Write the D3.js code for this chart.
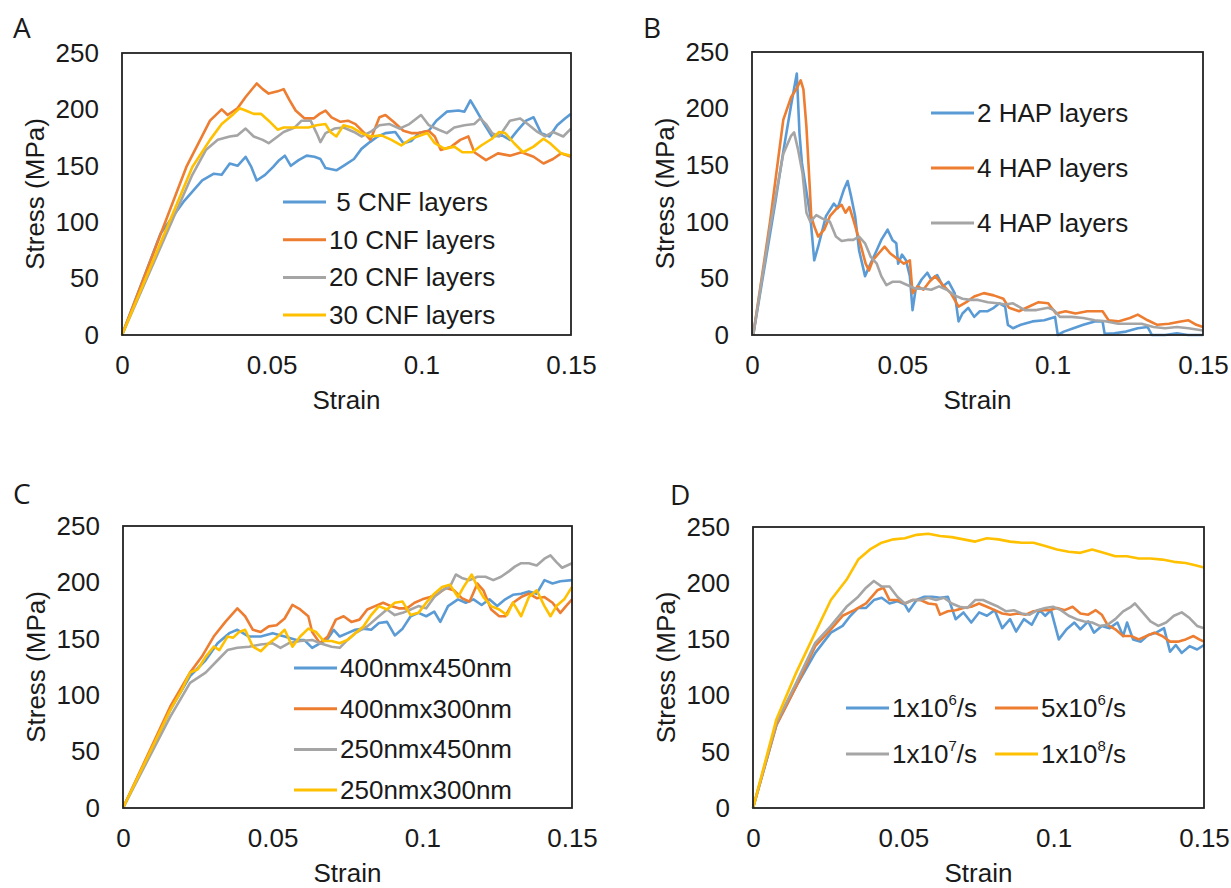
<!DOCTYPE html>
<html>
<head>
<meta charset="utf-8">
<script src="https://cdn.jsdelivr.net/npm/d3@7"></script>
<style>
  body { margin: 0; background: #fff; }
  svg text { font-family: "Liberation Sans", Arial, sans-serif; fill: #1a1a1a; }
  .panel-letter { font-family: "Open Sans", "Noto Sans", sans-serif; }
</style>
</head>
<body>
<div id="chart"></div>
<script>
// tick values shared by every panel
const strainTicks = [0, 0.05, 0.1, 0.15];
const stressTicks = [0, 50, 100, 150, 200, 250];
const colors = ["#5B9BD5", "#ED7D31", "#A5A5A5", "#FFC000"];

// ---- A: number of CNF layers ----
const namesA = [" 5 CNF layers", "10 CNF layers", "20 CNF layers", "30 CNF layers"];
const a5 = [[0,0],[0.0129,90],[0.0208,119],[0.0268,137],[0.0307,143],[0.0333,142],[0.036,152],[0.0386,150],[0.0413,158],[0.0432,149],[0.045,137],[0.0478,142],[0.0505,149],[0.0525,155],[0.0544,159],[0.0564,150],[0.059,155],[0.0617,159],[0.0643,158],[0.0663,156],[0.068,148],[0.0716,146],[0.074,150],[0.0775,156],[0.080,165],[0.0828,171],[0.0854,176],[0.088,179],[0.0913,180],[0.094,170],[0.0966,172],[0.0992,179],[0.1025,181],[0.105,190],[0.1085,198],[0.1124,199],[0.1144,198],[0.1164,208],[0.1184,199],[0.121,187],[0.1236,176],[0.127,177],[0.1296,173],[0.132,181],[0.135,190],[0.1375,193],[0.140,179],[0.1428,176],[0.1454,186],[0.148,192],[0.15,196]];
const a10 = [[0,0],[0.0215,149],[0.0294,190],[0.0333,200],[0.0353,195],[0.0386,201],[0.0413,211],[0.045,223],[0.047,218],[0.049,214],[0.052,216],[0.054,218],[0.056,208],[0.058,199],[0.061,192],[0.064,192],[0.066,196],[0.068,199],[0.070,193],[0.073,189],[0.0755,190],[0.078,187],[0.081,179],[0.083,173],[0.086,193],[0.088,195],[0.0907,189],[0.094,181],[0.0966,179],[0.099,179],[0.1025,181],[0.1045,176],[0.1065,164],[0.11,167],[0.113,173],[0.1157,176],[0.1177,162],[0.1216,155],[0.1256,161],[0.1296,159],[0.1335,162],[0.1375,158],[0.1408,152],[0.144,156],[0.1467,161],[0.15,158]];
const a20 = [[0,0],[0.0235,142],[0.028,164],[0.032,173],[0.036,176],[0.0386,177],[0.0413,183],[0.044,176],[0.047,173],[0.049,170],[0.052,176],[0.054,180],[0.0577,184],[0.060,190],[0.063,190],[0.065,179],[0.0663,171],[0.068,179],[0.071,183],[0.074,184],[0.0775,180],[0.080,176],[0.083,180],[0.086,186],[0.0894,187],[0.0927,183],[0.096,187],[0.0999,195],[0.1025,186],[0.1058,182],[0.1085,179],[0.111,184],[0.1144,186],[0.1177,187],[0.1197,192],[0.1216,187],[0.1236,179],[0.126,176],[0.1296,190],[0.133,192],[0.1355,187],[0.1388,180],[0.1414,176],[0.144,180],[0.1474,176],[0.15,183]];
const a30 = [[0,0],[0.0235,149],[0.0294,173],[0.0333,187],[0.0373,196],[0.0393,201],[0.0413,199],[0.044,196],[0.0465,196],[0.049,190],[0.052,182],[0.054,184],[0.058,184],[0.0623,184],[0.065,186],[0.068,187],[0.0696,180],[0.0716,176],[0.074,186],[0.0768,184],[0.080,179],[0.083,176],[0.0867,177],[0.09,173],[0.0933,168],[0.0966,174],[0.0999,177],[0.102,179],[0.1045,170],[0.1078,165],[0.111,167],[0.1137,162],[0.117,162],[0.12,168],[0.1236,174],[0.126,180],[0.128,179],[0.131,170],[0.134,162],[0.1375,167],[0.1408,174],[0.143,170],[0.1467,161],[0.15,159]];

// ---- B: number of HAP layers ----
const namesB = ["2 HAP layers", "4 HAP layers", "4 HAP layers"];
const b2 = [[0.0004,0],[0.0078,118],[0.0104,162],[0.013,203],[0.0149,231],[0.0158,178],[0.0166,152],[0.0194,105],[0.0207,66],[0.022,78],[0.0246,105],[0.0272,116],[0.0285,112],[0.0305,128],[0.0318,136],[0.033,122],[0.0343,105],[0.0356,75],[0.0376,52],[0.0389,60],[0.041,72],[0.043,84],[0.0451,93],[0.0467,84],[0.048,81],[0.0486,63],[0.0499,71],[0.0512,66],[0.0525,52],[0.0534,22],[0.0544,40],[0.0564,49],[0.0583,55],[0.0596,49],[0.0616,53],[0.0635,43],[0.0654,47],[0.0674,37],[0.0687,12],[0.07,19],[0.0719,24],[0.0739,16],[0.0758,21],[0.0784,21],[0.0804,24],[0.0823,28],[0.0842,25],[0.0851,9],[0.0868,6],[0.0894,9],[0.0933,12],[0.0972,13],[0.1008,16],[0.1017,0],[0.1037,3],[0.1069,6],[0.1102,9],[0.114,12],[0.1166,12],[0.1173,1],[0.1205,1.5],[0.1244,3],[0.1283,6],[0.1316,7],[0.133,0],[0.1374,0],[0.1413,1.5],[0.145,0],[0.15,0]];
const b4 = [[0.0004,0],[0.006,100],[0.0104,190],[0.013,210],[0.0149,218],[0.0162,225],[0.0171,217],[0.0181,184],[0.0192,131],[0.0197,105],[0.0207,96],[0.022,87],[0.024,93],[0.0259,105],[0.0279,111],[0.0298,115],[0.0311,108],[0.0324,113],[0.0337,102],[0.035,90],[0.0363,78],[0.0378,63],[0.0389,57],[0.0402,66],[0.0421,72],[0.0441,78],[0.046,72],[0.048,68],[0.0505,63],[0.0525,66],[0.0534,37],[0.0551,43],[0.057,40],[0.059,47],[0.0609,52],[0.0635,44],[0.0661,37],[0.0687,25],[0.0713,29],[0.0739,34],[0.0771,37],[0.0804,35],[0.0836,32],[0.0855,24],[0.0888,21],[0.092,25],[0.0953,29],[0.0985,28],[0.1011,19],[0.1043,21],[0.1076,19],[0.1115,21],[0.1166,21],[0.1186,13],[0.1218,12],[0.1257,15],[0.1283,18],[0.1316,13],[0.1348,9],[0.1387,10],[0.1426,12],[0.1452,13],[0.1478,9],[0.15,7]];
const b4b = [[0.0004,0],[0.006,95],[0.0104,160],[0.013,176],[0.014,179],[0.0153,164],[0.0168,143],[0.0181,108],[0.0194,100],[0.0214,106],[0.0233,103],[0.0259,100],[0.0279,87],[0.0298,83],[0.0318,84],[0.0337,84],[0.0356,87],[0.0376,81],[0.0395,69],[0.0415,63],[0.043,52],[0.0447,44],[0.0467,47],[0.0492,47],[0.0518,44],[0.0544,41],[0.057,41],[0.0596,40],[0.0622,43],[0.0648,40],[0.0674,35],[0.07,32],[0.0726,31],[0.0752,31],[0.0784,29],[0.0816,28],[0.0842,27],[0.0868,28],[0.0907,22],[0.0946,22],[0.0985,24],[0.1004,22],[0.1024,16],[0.1063,16],[0.1102,15],[0.114,13],[0.1179,12],[0.1218,10],[0.1257,10],[0.1296,10],[0.1335,7],[0.1374,6],[0.1413,7],[0.1452,6],[0.15,4]];

// ---- C: cross-section size ----
const namesC = ["400nmx450nm", "400nmx300nm", "250nmx450nm", "250nmx300nm"];
const c400x450 = [[0,0],[0.0158,87],[0.0224,117],[0.0276,131],[0.0316,146],[0.0355,155],[0.0382,158],[0.0421,152],[0.046,152],[0.05,155],[0.054,152],[0.0579,149],[0.0605,149],[0.0632,142],[0.0658,146],[0.0684,150],[0.0704,158],[0.0724,152],[0.075,155],[0.0776,158],[0.0803,159],[0.0829,158],[0.0855,164],[0.0882,165],[0.0908,153],[0.0934,159],[0.0961,170],[0.0987,173],[0.1013,170],[0.104,174],[0.106,165],[0.1086,179],[0.1119,185],[0.1145,182],[0.1171,185],[0.1198,180],[0.1224,185],[0.125,179],[0.1277,185],[0.1303,189],[0.133,190],[0.1356,192],[0.1382,190],[0.1408,202],[0.1435,199],[0.1461,201],[0.15,202]];
const c400x300 = [[0,0],[0.0158,90],[0.0224,120],[0.0263,134],[0.0303,152],[0.0342,165],[0.0382,177],[0.0408,170],[0.0434,158],[0.046,156],[0.0487,161],[0.0513,162],[0.054,168],[0.0566,180],[0.0592,176],[0.0619,170],[0.0632,156],[0.0658,146],[0.0684,152],[0.0711,167],[0.0737,170],[0.0763,165],[0.079,167],[0.0816,176],[0.0842,179],[0.0869,182],[0.0895,179],[0.0921,177],[0.0948,177],[0.0974,182],[0.1,185],[0.1026,187],[0.1053,190],[0.1079,195],[0.1105,193],[0.1132,186],[0.1158,183],[0.1184,199],[0.1204,193],[0.123,176],[0.1257,170],[0.1277,170],[0.1303,182],[0.133,187],[0.1356,190],[0.1382,186],[0.1408,187],[0.1435,182],[0.1461,173],[0.148,179],[0.15,185]];
const c250x450 = [[0,0],[0.0158,81],[0.0224,111],[0.0276,120],[0.0316,131],[0.0349,140],[0.0382,142],[0.0421,143],[0.046,145],[0.05,146],[0.0526,142],[0.0553,146],[0.0592,148],[0.0632,149],[0.0658,146],[0.0697,143],[0.0724,142],[0.075,149],[0.0776,155],[0.0816,161],[0.0855,170],[0.0882,176],[0.0908,171],[0.0934,173],[0.0961,176],[0.0987,179],[0.1013,177],[0.104,187],[0.1066,193],[0.1092,196],[0.1112,207],[0.1132,204],[0.1158,202],[0.1184,205],[0.1211,205],[0.1237,202],[0.1263,205],[0.129,210],[0.1309,214],[0.133,217],[0.1356,217],[0.1382,215],[0.1408,221],[0.1428,224],[0.1448,218],[0.1467,213],[0.15,217]];
const c250x300 = [[0,0],[0.0158,87],[0.0197,105],[0.0224,120],[0.025,123],[0.0276,134],[0.0303,143],[0.0322,140],[0.0349,152],[0.0368,151],[0.0388,156],[0.0408,158],[0.0434,143],[0.046,139],[0.0487,146],[0.0513,151],[0.054,158],[0.0566,143],[0.0592,152],[0.0619,159],[0.0645,156],[0.0671,148],[0.0697,148],[0.0724,146],[0.075,149],[0.0776,155],[0.0803,161],[0.0829,171],[0.0855,179],[0.0882,176],[0.0908,182],[0.0934,183],[0.0961,171],[0.0987,173],[0.1013,182],[0.104,190],[0.1066,196],[0.1092,198],[0.1119,187],[0.1138,196],[0.1165,207],[0.1184,196],[0.1204,187],[0.123,179],[0.1257,176],[0.1283,171],[0.1303,182],[0.133,170],[0.1356,187],[0.1382,193],[0.1408,179],[0.1428,170],[0.1448,179],[0.1474,185],[0.15,196]];

// ---- D: strain rate ----
const namesD = [["1x10", "6", "/s"], ["5x10", "6", "/s"], ["1x10", "7", "/s"], ["1x10", "8", "/s"]];
const d1e6 = [[0,0],[0.0078,74],[0.0143,108],[0.0207,138],[0.0259,156],[0.0298,162],[0.0324,171],[0.035,178],[0.0376,178],[0.0402,185],[0.0428,187],[0.0454,182],[0.048,184],[0.0505,181],[0.0518,175],[0.0544,185],[0.057,188],[0.0596,188],[0.0622,187],[0.0648,188],[0.0674,168],[0.07,174],[0.0726,165],[0.0752,174],[0.0778,171],[0.0804,176],[0.0829,160],[0.0855,168],[0.0875,157],[0.0901,168],[0.0927,163],[0.0953,176],[0.0972,171],[0.0991,176],[0.1017,150],[0.1043,159],[0.1069,165],[0.1089,159],[0.1115,166],[0.1134,156],[0.116,162],[0.1186,160],[0.1212,165],[0.1231,153],[0.1244,165],[0.1264,150],[0.129,148],[0.1315,154],[0.1341,156],[0.1367,160],[0.1387,139],[0.1406,145],[0.1426,138],[0.1452,144],[0.1477,141],[0.15,145]];
const d5e6 = [[0,0],[0.0078,74],[0.0143,108],[0.0207,144],[0.0259,159],[0.0298,171],[0.0337,176],[0.0376,182],[0.0415,194],[0.0434,196],[0.0454,185],[0.048,185],[0.0505,182],[0.0531,185],[0.0557,185],[0.0583,182],[0.0609,181],[0.0622,172],[0.0648,175],[0.0674,176],[0.07,178],[0.0726,179],[0.0752,182],[0.0778,179],[0.0804,176],[0.0829,173],[0.0855,172],[0.0881,173],[0.0907,172],[0.0933,175],[0.0959,176],[0.0985,176],[0.1011,178],[0.1037,176],[0.1063,179],[0.1089,173],[0.1115,172],[0.114,176],[0.116,172],[0.1179,163],[0.1205,159],[0.1231,153],[0.1257,153],[0.1283,150],[0.1309,153],[0.1335,156],[0.1361,153],[0.1387,148],[0.1413,148],[0.1439,150],[0.1465,153],[0.1484,150],[0.15,148]];
const d1e7 = [[0,0],[0.0078,76],[0.0143,111],[0.0207,147],[0.0259,162],[0.0311,179],[0.035,188],[0.0376,196],[0.0402,202],[0.0428,197],[0.0454,197],[0.048,188],[0.0505,182],[0.0531,185],[0.0557,185],[0.0583,187],[0.0609,185],[0.0635,187],[0.0661,182],[0.0687,179],[0.0713,178],[0.0739,185],[0.0765,185],[0.0791,182],[0.0816,179],[0.0842,175],[0.0868,176],[0.0894,173],[0.092,172],[0.0946,176],[0.0972,178],[0.0998,179],[0.1024,176],[0.105,171],[0.1076,168],[0.1102,166],[0.1128,165],[0.1153,162],[0.1179,163],[0.1205,168],[0.1231,175],[0.1257,179],[0.127,182],[0.1296,174],[0.1322,166],[0.1348,162],[0.1374,165],[0.14,171],[0.1426,174],[0.1452,169],[0.1477,162],[0.15,160]];
const d1e8 = [[0,0],[0.0078,79],[0.0143,120],[0.0207,156],[0.0259,185],[0.0311,203],[0.035,221],[0.0389,230],[0.0428,236],[0.0467,239],[0.0505,240],[0.0544,243],[0.0583,244],[0.0622,242],[0.0661,241],[0.07,239],[0.0739,237],[0.0778,240],[0.0816,239],[0.0855,237],[0.0894,236],[0.0933,236],[0.0972,233],[0.1011,230],[0.105,228],[0.1089,227],[0.1128,230],[0.1166,227],[0.1205,224],[0.1244,224],[0.1283,222],[0.1322,222],[0.1361,221],[0.14,219],[0.1439,218],[0.1471,216],[0.15,214]];

const panels = [
  { letter: "A", lx: 13, ly: 38, left: 122, top: 53, width: 449, height: 282,
    series: [a5, a10, a20, a30], names: namesA,
    legend: names => names.map((n, i) => ({ name: n, color: colors[i], x: 161, y: 149 + i * 37.7 })) },
  { letter: "B", lx: 643, ly: 38, left: 752, top: 52, width: 451, height: 283,
    series: [b2, b4, b4b], names: namesB,
    legend: names => names.map((n, i) => ({ name: n, color: colors[i], x: 179, y: 61 + i * 55 })) },
  { letter: "C", lx: 13, ly: 504, left: 123, top: 526, width: 449, height: 282,
    series: [c400x450, c400x300, c250x450, c250x300], names: namesC,
    legend: names => names.map((n, i) => ({ name: n, color: colors[i], x: 171, y: 142 + i * 40.7 })) },
  { letter: "D", lx: 670, ly: 505, left: 753, top: 527, width: 451, height: 281,
    series: [d1e6, d5e6, d1e7, d1e8], names: namesD,
    legend: names => names.map((n, i) => ({ name: n, color: colors[i], x: 93 + (i % 2) * 149, y: 181 + Math.floor(i / 2) * 46 })) }
];

const svg = d3.select("#chart").append("svg")
  .attr("width", 1231)
  .attr("height", 888);

panels.forEach(p => {
  const x = d3.scaleLinear().domain([0, 0.15]).range([0, p.width]);
  const y = d3.scaleLinear().domain([0, 250]).range([p.height, 0]);

  svg.append("text")
    .attr("class", "panel-letter")
    .attr("x", p.lx).attr("y", p.ly)
    .style("font-size", "28px")
    .text(p.letter);

  const g = svg.append("g").attr("transform", `translate(${p.left},${p.top})`);

  // y axis labels, no tick marks
  const yAxis = g.append("g").call(d3.axisLeft(y).tickValues(stressTicks).tickSize(0).tickPadding(23));
  yAxis.select(".domain").remove();
  yAxis.selectAll("text").style("font-size", "26px").attr("fill", "#1a1a1a")
    .style("font-family", "'Liberation Sans', Arial, sans-serif");

  const xAxis = g.append("g").attr("transform", `translate(0,${p.height})`)
    .call(d3.axisBottom(x).tickValues(strainTicks).tickSize(0).tickPadding(21).tickFormat(d => String(d)));
  xAxis.select(".domain").remove();
  xAxis.selectAll("text").style("font-size", "26px").attr("fill", "#1a1a1a")
    .style("font-family", "'Liberation Sans', Arial, sans-serif");

  g.append("text")
    .attr("x", p.width / 2).attr("y", p.height + 74)
    .attr("text-anchor", "middle")
    .style("font-size", "26px")
    .text("Strain");

  g.append("text")
    .attr("transform", `translate(-87,${p.height / 2}) rotate(-90)`)
    .attr("text-anchor", "middle")
    .attr("dominant-baseline", "central")
    .style("font-size", "26px")
    .text("Stress (MPa)");

  const line = d3.line().x(d => x(d[0])).y(d => y(d[1]));

  g.selectAll(".curve")
    .data(p.series)
    .join("path")
    .attr("class", "curve")
    .attr("d", line)
    .attr("fill", "none")
    .attr("stroke", (d, i) => colors[i])
    .attr("stroke-width", 2.6)
    .attr("stroke-linejoin", "round");

  // plot frame
  g.append("rect")
    .attr("width", p.width).attr("height", p.height)
    .attr("fill", "none")
    .attr("stroke", "#222")
    .attr("stroke-width", 1.8);

  // legend
  const items = g.append("g").selectAll("g")
    .data(p.legend(p.names))
    .join("g")
    .attr("transform", d => `translate(${d.x},${d.y})`);
  items.append("line")
    .attr("x1", 0).attr("x2", 43)
    .attr("stroke", d => d.color)
    .attr("stroke-width", 3);
  const labels = items.append("text")
    .attr("x", 46)
    .attr("dominant-baseline", "central")
    .attr("xml:space", "preserve")
    .style("white-space", "pre")
    .style("font-size", "26px");
  labels.each(function (d) {
    const t = d3.select(this);
    if (Array.isArray(d.name)) {
      t.append("tspan").text(d.name[0]);
      t.append("tspan").attr("dy", -9).style("font-size", "15px").text(d.name[1]);
      t.append("tspan").attr("dy", 9).text(d.name[2]);
    } else {
      t.text(d.name);
    }
  });
});
</script>
</body>
</html>
